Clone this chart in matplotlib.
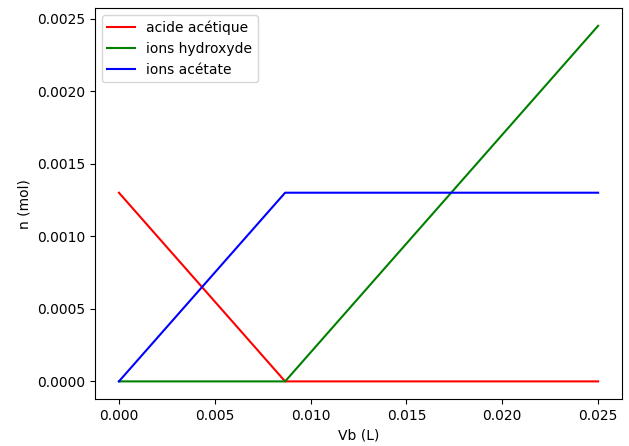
import numpy as np
import matplotlib
matplotlib.use("Agg")
import matplotlib.pyplot as plt

# titration points (Vb in L, n in mol)
vb = [0.0, 0.00867, 0.025]
n_acide = [0.0013, 0.0, 0.0]
n_hydroxyde = [0.0, 0.0, 0.00245]
n_acetate = [0.0, 0.0013, 0.0013]

fig = plt.figure(figsize=(6.29, 4.46), dpi=100)
ax = fig.add_axes([0.151, 0.105, 0.838, 0.877])

ax.plot(vb, n_acide, color='r', label='acide acétique')
ax.plot(vb, n_hydroxyde, color='g', label='ions hydroxyde')
ax.plot(vb, n_acetate, color='b', label='ions acétate')

ax.set_xlabel('Vb (L)')
ax.set_ylabel('n (mol)')
ax.legend(loc='upper left')

fig.savefig('out.png', dpi=100)
